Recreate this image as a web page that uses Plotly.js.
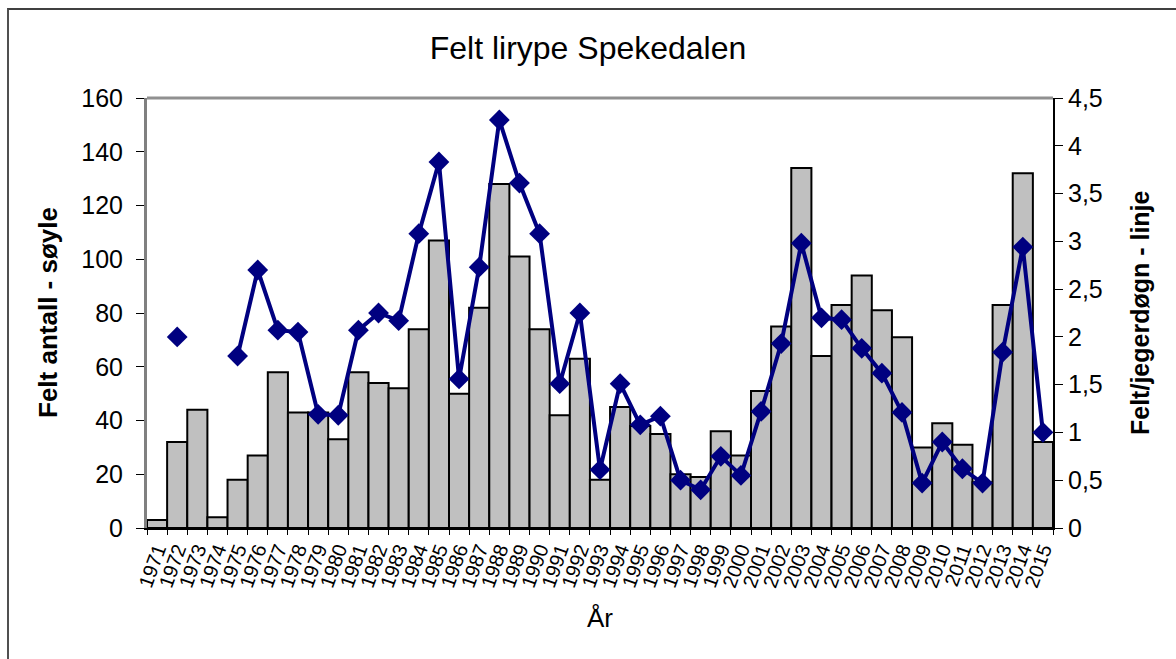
<!DOCTYPE html>
<html>
<head>
<meta charset="utf-8">
<script src="https://cdn.plot.ly/plotly-3.0.1.min.js"></script>
<style>
  html, body { margin: 0; padding: 0; background: #fff; }
  #wrap { position: relative; width: 1176px; height: 659px; overflow: hidden; }
  #chart { position: absolute; left: 0; top: 0; width: 1176px; height: 659px; }
  #frame { position: absolute; left: 7px; top: 8px; width: 1200px; height: 700px;
           border-left: 2px solid #505050; border-top: 2px solid #404040; pointer-events: none; }
</style>
</head>
<body>
<div id="wrap">
  <div id="chart"></div>
  <div id="frame"></div>
</div>
<script>
const years = ["1971","1972","1973","1974","1975","1976","1977","1978","1979","1980",
  "1981","1982","1983","1984","1985","1986","1987","1988","1989","1990",
  "1991","1992","1993","1994","1995","1996","1997","1998","1999","2000",
  "2001","2002","2003","2004","2005","2006","2007","2008","2009","2010",
  "2011","2012","2013","2014","2015"];

const feltAntall = [3,32,44,4,18,27,58,43,43,33,
  58,54,52,74,107,50,82,128,101,74,
  42,63,18,45,38,35,20,19,36,27,
  51,75,134,64,83,94,81,71,30,39,
  31,17,83,132,32];

const feltPerJegerdogn = [null,2.0,null,null,1.80,2.70,2.07,2.05,1.19,1.18,
  2.07,2.25,2.17,3.08,3.83,1.56,2.73,4.27,3.61,3.08,
  1.51,2.25,0.61,1.51,1.08,1.17,0.50,0.40,0.75,0.55,
  1.22,1.93,2.98,2.20,2.18,1.88,1.62,1.21,0.47,0.90,
  0.62,0.47,1.84,2.94,1.00];

const leftTicks = [0,20,40,60,80,100,120,140,160];
const rightTicks = [0,0.5,1,1.5,2,2.5,3,3.5,4,4.5];
const rightTickText = ["0","0,5","1","1,5","2","2,5","3","3,5","4","4,5"];

const FONT = "Liberation Sans, Arial, Helvetica, sans-serif";

const traces = [
  {
    type: "bar",
    x: years,
    y: feltAntall,
    name: "Felt antall",
    marker: { color: "#C0C0C0", line: { color: "#000000", width: 2 } },
    yaxis: "y"
  },
  {
    type: "scatter",
    mode: "lines+markers",
    x: years,
    y: feltPerJegerdogn,
    name: "Felt/jegerdøgn",
    yaxis: "y2",
    connectgaps: false,
    line: { color: "#000080", width: 4 },
    marker: { symbol: "diamond", size: 16, color: "#000080" }
  }
];

const W = 1176, H = 659;
const L = 147, R = 1053, T = 98, B = 528;

const layout = {
  width: W, height: H,
  margin: { l: L, r: W - R, t: T, b: H - B, pad: 0 },
  paper_bgcolor: "#ffffff",
  plot_bgcolor: "#ffffff",
  showlegend: false,
  bargap: 0,
  font: { family: FONT, color: "#000000", size: 22 },
  title: {
    text: "Felt lirype Spekedalen",
    font: { family: FONT, size: 32, color: "#000" },
    x: 0.5, xanchor: "center",
    y: 1 - 48 / H, yanchor: "middle", yref: "container"
  },
  xaxis: {
    type: "category",
    range: [-0.5, years.length - 0.5],
    tickmode: "array",
    tickvals: years,
    ticktext: years,
    tickangle: -70,
    tickfont: { family: FONT, size: 20 },
    ticks: "outside",
    ticklen: 5,
    tickson: "boundaries",
    tickcolor: "#000",
    showline: true,
    linecolor: "#000",
    linewidth: 2,
    showgrid: false,
    zeroline: false
  },
  yaxis: {
    range: [0, 160],
    tickvals: leftTicks,
    ticks: "outside",
    ticklen: 8,
    tickcolor: "#000",
    ticklabelstandoff: 8,
    tickfont: { family: FONT, size: 25 },
    showline: true,
    linecolor: "#808080",
    linewidth: 3,
    showgrid: false,
    zeroline: false
  },
  yaxis2: {
    range: [0, 4.5],
    overlaying: "y",
    side: "right",
    tickvals: rightTicks,
    ticktext: rightTickText,
    ticks: "outside",
    ticklen: 8,
    tickcolor: "#000",
    tickfont: { family: FONT, size: 25 },
    showline: true,
    linecolor: "#000",
    linewidth: 2,
    showgrid: false,
    zeroline: false
  },
  shapes: [
    { type: "line", xref: "paper", yref: "paper", x0: 0, x1: 1, y0: 1, y1: 1,
      line: { color: "#909090", width: 3 } }
  ],
  annotations: [
    { text: "Felt antall - søyle", xref: "paper", yref: "paper",
      x: (48 - L) / (R - L), y: 0.5, xanchor: "center", yanchor: "middle",
      textangle: -90, showarrow: false,
      font: { family: FONT, size: 26, color: "#000", weight: "bold" } },
    { text: "Felt/jegerdøgn - linje", xref: "paper", yref: "paper",
      x: (1140 - L) / (R - L), y: 0.5, xanchor: "center", yanchor: "middle",
      textangle: -90, showarrow: false,
      font: { family: FONT, size: 25, color: "#000", weight: "bold" } },
    { text: "År", xref: "paper", yref: "paper",
      x: 0.5, y: -(618 - B) / (B - T), xanchor: "center", yanchor: "middle",
      showarrow: false,
      font: { family: FONT, size: 26, color: "#000" } }
  ]
};

Plotly.newPlot("chart", traces, layout, { displayModeBar: false, staticPlot: true });
</script>
</body>
</html>
